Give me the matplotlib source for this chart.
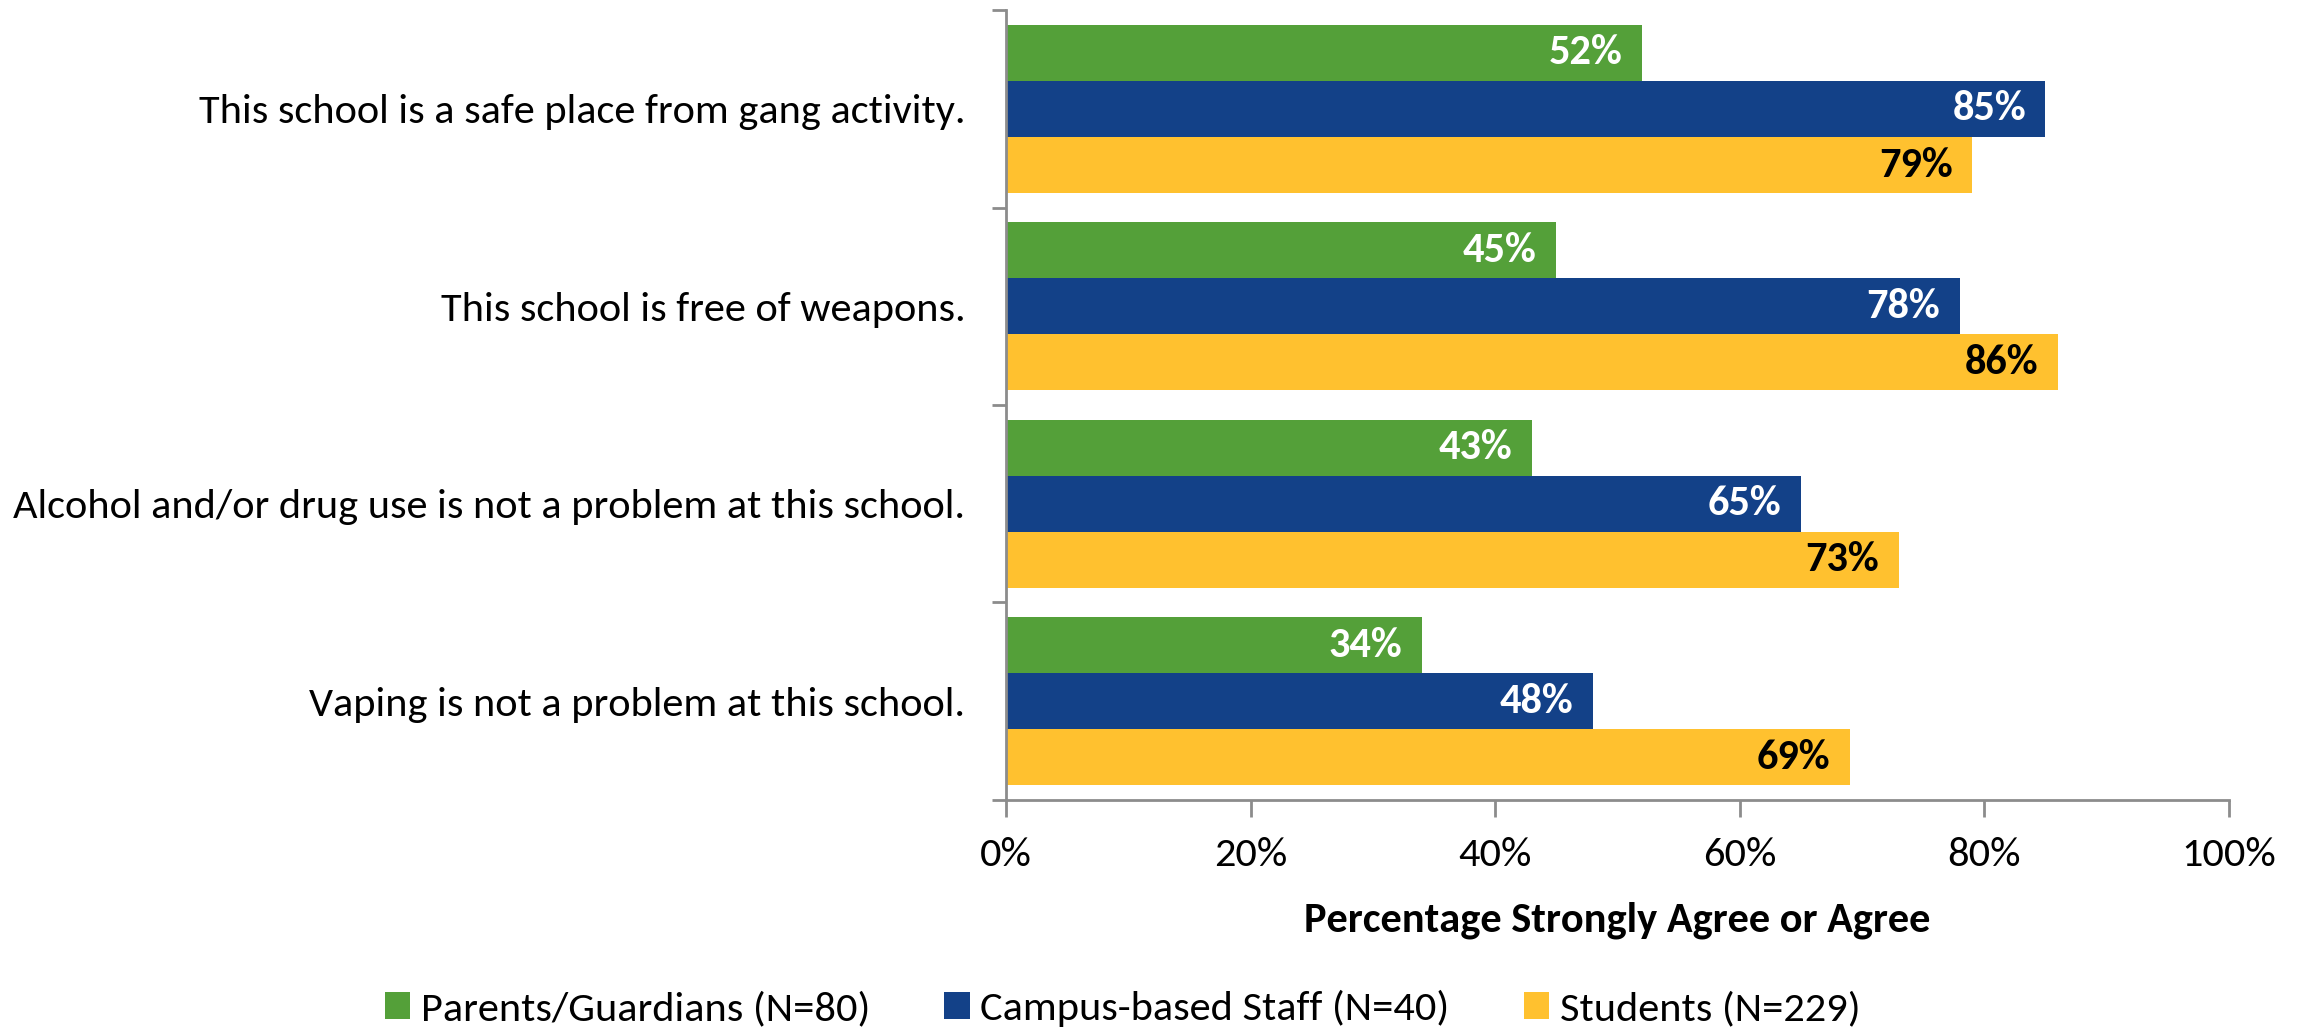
import matplotlib
matplotlib.use("Agg")
import matplotlib.pyplot as plt
from matplotlib.patches import Patch

categories = [
    "This school is a safe place from gang activity.",
    "This school is free of weapons.",
    "Alcohol and/or drug use is not a problem at this school.",
    "Vaping is not a problem at this school.",
]
series_names = ["Parents/Guardians (N=80)", "Campus-based Staff (N=40)", "Students (N=229)"]
parents = [52, 45, 43, 34]
staff = [85, 78, 65, 48]
students = [79, 86, 73, 69]
x_ticks = [0, 20, 40, 60, 80, 100]
x_label = "Percentage Strongly Agree or Agree"

colors = ["#54A039", "#134188", "#FFC12F"]
label_colors = ["white", "white", "black"]
FS = 30.5

plt.rcParams["font.family"] = ["Carlito", "DejaVu Sans"]

fig = plt.figure(figsize=(23.05, 10.28), dpi=100)
ax = fig.add_axes([0.4364, 0.222, 0.5306, 0.768])

bar_h = 0.284
offsets = [-bar_h, 0, bar_h]
ypos = list(range(len(categories)))
for vals, off, col, lc in zip([parents, staff, students], offsets, colors, label_colors):
    ys = [y + off for y in ypos]
    bars = ax.barh(ys, vals, height=bar_h, color=col, edgecolor="none")
    for b, v in zip(bars, vals):
        ax.text(b.get_width() - 1.6, b.get_y() + b.get_height() / 2, f"{v}%",
                ha="right", va="center", color=lc, fontsize=FS, fontweight="bold")

ax.set_xlim(0, 100)
ax.set_ylim(len(categories) - 0.5, -0.5)
ax.set_xticks(x_ticks)
ax.set_xticklabels([f"{t}%" for t in x_ticks])
ax.set_yticks([i - 0.5 for i in range(len(categories) + 1)])
ax.set_yticklabels([])
ax.set_yticks(ypos, minor=True)
ax.set_yticklabels(categories, minor=True)
ax.tick_params(axis="y", which="minor", length=0, pad=29, labelsize=FS)
ax.tick_params(axis="y", which="major", length=10, width=2, color="#8c8c8c")
ax.tick_params(axis="x", length=12, width=2, color="#8c8c8c", labelsize=FS, pad=15)
for s in ["top", "right"]:
    ax.spines[s].set_visible(False)
for s in ["left", "bottom"]:
    ax.spines[s].set_color("#8c8c8c")
    ax.spines[s].set_linewidth(2)
ax.set_xlabel(x_label, fontsize=FS, fontweight="bold", labelpad=20)

handles = [Patch(facecolor=c, edgecolor="none") for c in colors]
fig.legend(handles, series_names, loc="center", bbox_to_anchor=(0.487, 0.019),
           ncol=3, frameon=False, fontsize=FS, handlelength=0.6, handleheight=0.6,
           handletextpad=0.25, columnspacing=1.75)

fig.savefig("out.png", dpi=100)
